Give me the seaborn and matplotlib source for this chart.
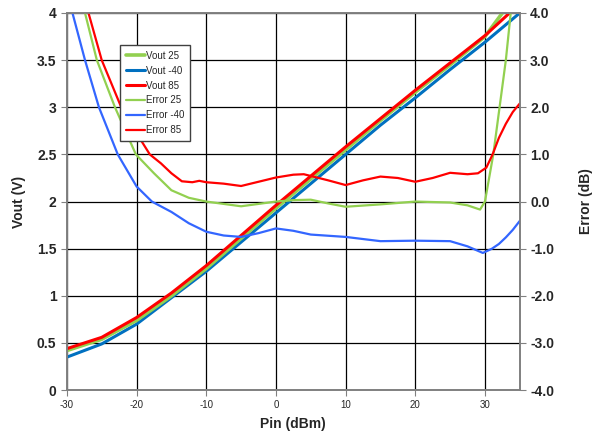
import matplotlib
matplotlib.use("Agg")
import matplotlib.pyplot as plt
from matplotlib.ticker import FormatStrFormatter
import seaborn as sns

# input power for the Vout curves
pin = [-30, -25, -20, -15, -10, -5, 0, 5, 10, 15, 20, 25, 30, 35]
vout_25 = [0.42, 0.54, 0.74, 1.00, 1.29, 1.61, 1.93, 2.24, 2.55, 2.86, 3.16, 3.45, 3.75, 4.25]
vout_m40 = [0.35, 0.49, 0.70, 0.98, 1.26, 1.57, 1.88, 2.19, 2.50, 2.81, 3.10, 3.40, 3.69, 4.00]
vout_85 = [0.44, 0.56, 0.77, 1.03, 1.32, 1.64, 1.96, 2.27, 2.58, 2.88, 3.18, 3.47, 3.76, 4.10]

# error curves (dB)
pin_e25 = [-30, -27.4, -25.7, -23.1, -20.1, -17.5, -15, -12.5, -10, -7.5, -5, -2.5, 0, 2.5, 5,
           7.5, 10, 15, 20, 25, 27.5, 29.3, 30, 31.2, 32.1, 33, 33.7, 35]
err_25 = [5.5, 4.0, 3.0, 2.0, 1.0, 0.6, 0.24, 0.08, 0.0, -0.05, -0.1, -0.05, 0.0, 0.03, 0.04,
          -0.04, -0.11, -0.06, 0.0, -0.02, -0.08, -0.17, 0.0, 1.0, 2.0, 3.0, 4.0, 6.0]

pin_em40 = [-30, -29.2, -27.4, -25.4, -22.7, -20, -17.8, -16.4, -15, -12.5, -10, -7.5, -5, -2.5, 0,
            2.5, 5, 10, 15, 20, 25, 27.5, 29.7, 31, 32, 33, 34, 35]
err_m40 = [4.5, 4.0, 3.0, 2.0, 1.0, 0.32, 0.0, -0.11, -0.22, -0.46, -0.64, -0.72, -0.75, -0.67, -0.57,
           -0.62, -0.70, -0.75, -0.84, -0.83, -0.84, -0.95, -1.09, -1.0, -0.9, -0.76, -0.6, -0.41]

pin_e85 = [-30, -26.9, -25, -22.2, -20, -18.1, -16.5, -15, -13.5, -12, -11, -10, -7.5, -5, -2.5, 0,
           2.5, 4, 7.5, 10, 12.5, 15, 17.5, 20, 22.5, 25, 27.5, 29, 30.2, 31.1, 32, 33, 34, 35]
err_85 = [5.3, 4.0, 3.0, 2.0, 1.45, 1.0, 0.81, 0.6, 0.43, 0.41, 0.44, 0.41, 0.38, 0.33, 0.42, 0.51,
          0.57, 0.58, 0.45, 0.35, 0.45, 0.53, 0.50, 0.42, 0.50, 0.61, 0.58, 0.60, 0.72, 1.0, 1.35, 1.65,
          1.9, 2.08]

sns.set_style("white")
plt.rcParams["font.family"] = ["Liberation Sans", "DejaVu Sans"]
plt.rcParams["axes.unicode_minus"] = False

fig = plt.figure(figsize=(5.92, 4.33), dpi=100)
ax = fig.add_axes([0.113, 0.099, 0.765, 0.871])

sns.lineplot(x=pin, y=vout_m40, ax=ax, color="#0070C0", lw=2.2, label="Vout -40")
sns.lineplot(x=pin, y=vout_25, ax=ax, color="#92D050", lw=2.6, label="Vout 25")
sns.lineplot(x=pin, y=vout_85, ax=ax, color="#FF0000", lw=2.2, label="Vout 85")

ax2 = ax.twinx()
sns.lineplot(x=pin_e25, y=err_25, ax=ax2, color="#92D050", lw=1.6, label="Error 25")
sns.lineplot(x=pin_em40, y=err_m40, ax=ax2, color="#3366FF", lw=1.6, label="Error -40")
sns.lineplot(x=pin_e85, y=err_85, ax=ax2, color="#FF0000", lw=1.6, label="Error 85")

ax.set_xlim(-30, 35)
ax.set_ylim(0, 4)
ax2.set_ylim(-4, 4)
ax.set_xticks([-30, -20, -10, 0, 10, 20, 30])
ax.set_yticks([0, 0.5, 1, 1.5, 2, 2.5, 3, 3.5, 4])
ax.set_yticklabels(["0", "0.5", "1", "1.5", "2", "2.5", "3", "3.5", "4"])
ax2.set_yticks([-4, -3, -2, -1, 0, 1, 2, 3, 4])
ax2.yaxis.set_major_formatter(FormatStrFormatter("%.1f"))

ax.grid(True, color="black", lw=0.9)
for a in (ax, ax2):
    for s in a.spines.values():
        s.set_color("#808080")
        s.set_linewidth(1.2)
ax.tick_params(axis="x", labelsize=7, length=4, color="#808080", direction="out", bottom=True, pad=3)
ax.tick_params(axis="y", labelsize=10, length=4, color="#808080", direction="out", left=True)
ax2.tick_params(axis="y", labelsize=10, length=4, color="#808080", direction="out", right=True)
for lbl in ax.get_yticklabels() + ax2.get_yticklabels():
    lbl.set_fontweight("bold")

ax.set_xlabel("Pin (dBm)", fontsize=10, fontweight="bold", labelpad=5)
ax.set_ylabel("Vout (V)", fontsize=10, fontweight="bold", labelpad=8)
ax2.set_ylabel("Error (dB)", fontsize=10, fontweight="bold", labelpad=18)

# one legend for both axes, in the order of the reference
h1, l1 = ax.get_legend_handles_labels()
h2, l2 = ax2.get_legend_handles_labels()
ax.get_legend().remove()
handles = dict(zip(l1 + l2, h1 + h2))
order = ["Vout 25", "Vout -40", "Vout 85", "Error 25", "Error -40", "Error 85"]
leg = ax2.legend([handles[k] for k in order], order, loc="upper left",
                 bbox_to_anchor=(0.117, 0.915), fontsize=7, frameon=True, fancybox=False,
                 framealpha=1, edgecolor="#404040", handlelength=2.0, handletextpad=0.1,
                 labelspacing=0.5, borderpad=0.6, borderaxespad=0)
leg.get_frame().set_linewidth(1.0)

fig.savefig("out.png", dpi=100)
